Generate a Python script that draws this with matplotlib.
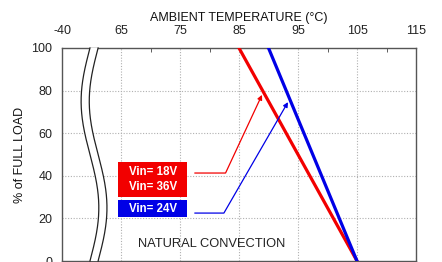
import numpy as np
import matplotlib
matplotlib.use("Agg")
import matplotlib.pyplot as plt
from matplotlib.ticker import FixedLocator
from matplotlib.patches import Rectangle

plt.rcParams['font.family'] = ['Liberation Sans', 'DejaVu Sans']

# ---- data ----
x_ticks = [55, 65, 75, 85, 95, 105, 115]
x_tick_labels = ['-40', '65', '75', '85', '95', '105', '115']
y_ticks = [0, 20, 40, 60, 80, 100]

red_temp = [85, 105]      # Vin=18V / 36V
red_load = [100, 0]
blue_temp = [90, 105]     # Vin=24V
blue_load = [100, 0]

red_label = "Vin= 18V\nVin= 36V"
blue_label = "Vin= 24V"
note = "NATURAL CONVECTION"
xlabel = "AMBIENT TEMPERATURE (°C)"
ylabel = "% of FULL LOAD"

RED = '#f20000'
BLUE = '#0000e6'

fig = plt.figure(figsize=(4.42, 2.62), dpi=100)
ax = fig.add_axes([62/442, 1/262, 354/442, 213/262])

ax.set_xlim(55, 115)
ax.set_ylim(0, 100)

ax.plot(red_temp, red_load, color=RED, lw=2.3, zorder=4)
ax.plot(blue_temp, blue_load, color=BLUE, lw=2.3, zorder=4)

# grid
for gx in x_ticks[1:-1]:
    ax.axvline(gx, color='#b0b0b0', lw=0.8, ls=(0, (1, 1.5)), zorder=1)
for gy in y_ticks[1:-1]:
    ax.axhline(gy, color='#b0b0b0', lw=0.8, ls=(0, (1, 1.5)), zorder=1)

ax.xaxis.tick_top()
ax.xaxis.set_label_position('top')
ax.set_xticks(x_ticks)
ax.set_xticklabels(x_tick_labels)
ax.xaxis.set_minor_locator(FixedLocator([70, 80, 90, 100, 110]))
ax.tick_params(axis='x', which='major', length=0, pad=8, labelsize=9, colors='#222222')
ax.tick_params(axis='x', which='minor', direction='in', length=3, color='#444444', top=True, bottom=False)
ax.set_yticks(y_ticks)
ax.tick_params(axis='y', which='major', length=0, pad=7, labelsize=9, colors='#222222')
ax.set_xlabel(xlabel, fontsize=9, labelpad=3, color='#111111')
ax.set_ylabel(ylabel, fontsize=9, labelpad=4, color='#111111')
for s in ax.spines.values():
    s.set_color('#555555')
    s.set_linewidth(1.0)

# axis break (wavy double line)
t = np.linspace(0, 1, 200)
off = 0.025 * np.sin(2 * np.pi * t)
xl = 0.079 + off
xr = 0.102 + off
poly_x = np.concatenate([xl, xr[::-1]])
poly_y = np.concatenate([t, t[::-1]])
ax.fill(poly_x, poly_y, color='white', transform=ax.transAxes, clip_on=False, zorder=5, lw=0)
ax.plot(xl, t, color='#222222', lw=0.9, transform=ax.transAxes, clip_on=False, zorder=6)
ax.plot(xr, t, color='#222222', lw=0.9, transform=ax.transAxes, clip_on=False, zorder=6)

# legend boxes
ax.add_patch(Rectangle((64.5, 30.0), 11.7, 16.5, fc=RED, ec='none', zorder=6))
ax.add_patch(Rectangle((64.5, 20.7), 11.7, 7.9, fc=BLUE, ec='none', zorder=6))
ax.text(70.35, 38.3, red_label, ha='center', va='center', fontsize=8.3, fontweight='bold',
        color='white', linespacing=1.35, zorder=7)
ax.text(70.35, 24.6, blue_label, ha='center', va='center', fontsize=8.3, fontweight='bold',
        color='white', zorder=7)

# pointer lines
ax.annotate('', xy=(88.9, 78), xytext=(77.5, 41.3),
            arrowprops=dict(arrowstyle='-|>', color=RED, lw=0.9, mutation_scale=7,
                            connectionstyle='angle,angleA=0,angleB=-115,rad=0', shrinkA=0, shrinkB=0),
            zorder=5)
ax.annotate('', xy=(93.3, 74.6), xytext=(77.5, 22.5),
            arrowprops=dict(arrowstyle='-|>', color=BLUE, lw=0.9, mutation_scale=7,
                            connectionstyle='angle,angleA=0,angleB=-120,rad=0', shrinkA=0, shrinkB=0),
            zorder=5)

ax.text(80.4, 8, note, ha='center', va='center', fontsize=9.3, color='#222222', zorder=7)

fig.savefig('out.png', dpi=100)
